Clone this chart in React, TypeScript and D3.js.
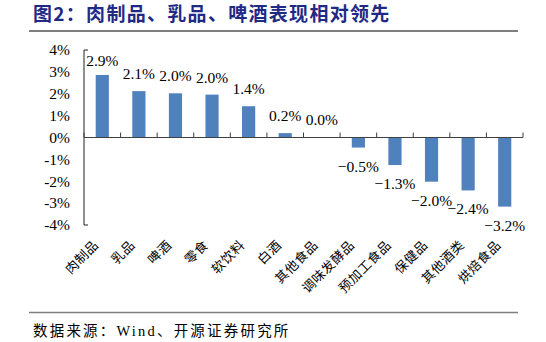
import React from "react";
import * as d3 from "d3";

const categories = ["肉制品", "乳品", "啤酒", "零食", "软饮料", "白酒", "其他食品", "调味发酵品", "预加工食品", "保健品", "其他酒类", "烘焙食品"];
const values = [2.86, 2.12, 2.02, 1.96, 1.43, 0.2, 0.02, -0.46, -1.26, -2.02, -2.42, -3.16];
const yTicks = [4, 3, 2, 1, 0, -1, -2, -3, -4];
const title = "图2：肉制品、乳品、啤酒表现相对领先";
const source = "数据来源：Wind、开源证券研究所";

const W = 546;
const H = 342;
const plot = { left: 84, right: 523, top: 50, bottom: 225 };
const serif = "Liberation Serif, DejaVu Serif, Noto Sans CJK SC, serif";
const cjk = "Noto Sans CJK SC, sans-serif";

export default function App() {
  const x = d3.scaleBand<string>().domain(categories).range([plot.left, plot.right]).padding(0);
  const y = d3.scaleLinear().domain([-4, 4]).range([plot.bottom, plot.top]);
  const bw = x.bandwidth() * 0.36;
  const fmt = d3.format(".1f");
  const y0 = y(0);
  const boundaries = d3.range(categories.length + 1).map((i) => plot.left + i * x.step());

  return (
    <svg width={W} height={H} style={{ position: "absolute", left: 0, top: 0, background: "#fff" }}>
      <rect x={0} y={0} width={W} height={H} fill="#fff" />
      <text x={33} y={21} style={{ fontFamily: cjk, fontWeight: 700, fontSize: 19, letterSpacing: 1.3 }} fill="#1f2a85">
        {title}
      </text>
      <line x1={29} x2={518} y1={31} y2={31} stroke="#7f7f7f" strokeWidth={2} />

      {categories.map((c, i) => {
        const v = values[i];
        const cx = (x(c) as number) + x.bandwidth() / 2;
        return (
          <rect key={c} x={cx - bw / 2} y={Math.min(y(v), y0)} width={bw} height={Math.abs(y(v) - y0)} fill="#4f81bd" />
        );
      })}

      <line x1={plot.left} x2={plot.left} y1={plot.top} y2={plot.bottom} stroke="#222" strokeWidth={1} />
      {[4, -4].map((t) => (
        <line key={t} x1={plot.left} x2={plot.left + 4} y1={y(t)} y2={y(t)} stroke="#222" strokeWidth={1} />
      ))}
      {yTicks.map((t) => (
        <text key={t} x={70} y={y(t)} dy="0.34em" textAnchor="end" style={{ fontFamily: serif, fontSize: 15.5 }} fill="#000">
          {t + "%"}
        </text>
      ))}

      <line x1={plot.left} x2={plot.right} y1={y0} y2={y0} stroke="#404040" strokeWidth={1.2} />
      {boundaries.map((bx, i) => (
        <line key={i} x1={bx} x2={bx} y1={y0} y2={y0 - 5} stroke="#404040" strokeWidth={1} />
      ))}

      {categories.map((c, i) => {
        const v = values[i];
        const cx = (x(c) as number) + x.bandwidth() / 2;
        const ly = v >= 0 ? Math.max(y(v) - 12, plot.top + 16) : y(v) + 24;
        return (
          <text key={c} x={cx} y={ly} textAnchor="middle" style={{ fontFamily: serif, fontSize: 15.5 }} fill="#000">
            {fmt(v) + "%"}
          </text>
        );
      })}

      {categories.map((c) => {
        const cx = (x(c) as number) + x.bandwidth() / 2 - 3;
        const ly = 246;
        return (
          <text
            key={c}
            x={cx}
            y={ly}
            textAnchor="end"
            style={{ fontFamily: cjk, fontSize: 13, letterSpacing: 0.5 }}
            fill="#000"
            transform={`rotate(-45 ${cx} ${ly})`}
          >
            {c}
          </text>
        );
      })}

      <line x1={29} x2={518} y1={312.5} y2={312.5} stroke="#7f7f7f" strokeWidth={1.5} />
      <text x={33} y={336} style={{ fontFamily: serif, fontSize: 14.5, letterSpacing: 2.2 }} fill="#000">
        {source}
      </text>
    </svg>
  );
}
